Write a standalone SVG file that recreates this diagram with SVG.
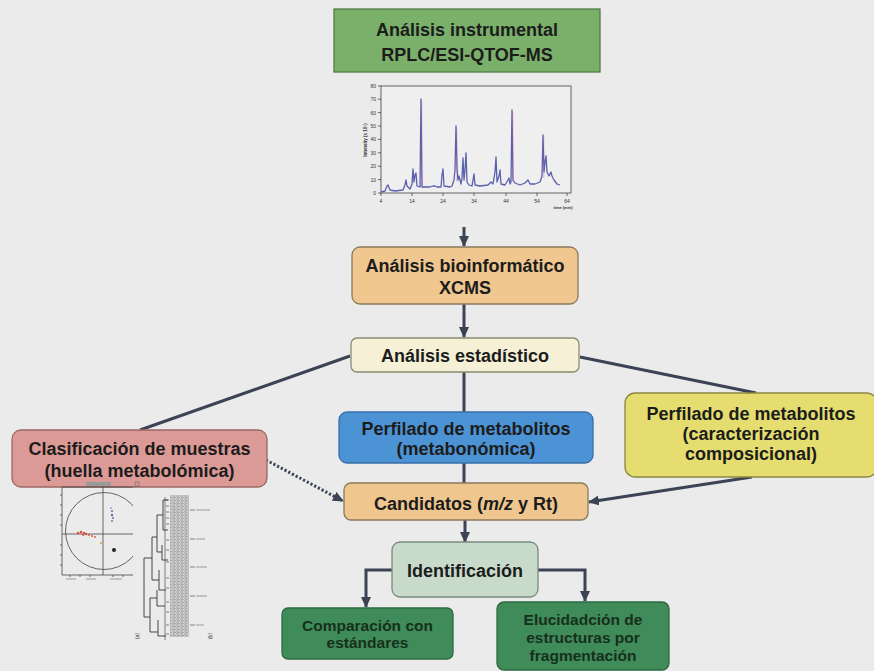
<svg xmlns="http://www.w3.org/2000/svg" width="874" height="671" viewBox="0 0 874 671">
<defs>
<style>
.t{font-family:"Liberation Sans",Arial,sans-serif;font-weight:bold;font-size:18px;fill:#1c1c1c;text-anchor:middle}
.s{font-size:15.5px;fill:#17301c}
.box{stroke-width:1.3}
.c{fill:none;stroke:#3b4354;stroke-width:3}
.tiny{font-family:"Liberation Sans",Arial,sans-serif;font-size:5px;fill:#333;text-anchor:middle}
.ax{fill:none;stroke:#444;stroke-width:0.8}
</style>
<marker id="ah" markerUnits="userSpaceOnUse" markerWidth="11" markerHeight="10" refX="10" refY="5" orient="auto"><path d="M0,0 L11,5 L0,10 z" fill="#3b4354"/></marker>
<clipPath id="pcaclip"><rect x="55" y="478" width="78" height="110"/></clipPath>
<pattern id="hm" width="4" height="3" patternUnits="userSpaceOnUse"><rect width="4" height="3" fill="#cfcfcf"/><path d="M0,1 H3 M1,2.5 H4" stroke="#8e8e8e" stroke-width="0.6"/></pattern>
</defs>
<rect width="874" height="671" fill="#ebebeb"/>

<g id="connectors">
<path class="c" d="M464,227 V246" marker-end="url(#ah)"/>
<path class="c" d="M464,304 V337" marker-end="url(#ah)"/>
<path class="c" d="M464,372 V412"/>
<path class="c" d="M464,463 V483"/>
<path class="c" d="M350,356 L140,430" stroke-width="2.6"/>
<path class="c" d="M580,357 L756,393" stroke-width="2.6"/>
<path class="c" d="M752,477 L589,502" stroke-width="2.6" marker-end="url(#ah)"/>
<path class="c" d="M266,460 L343,501" stroke-dasharray="2.2,2" stroke-width="3.5" marker-end="url(#ah)"/>
<path class="c" d="M465,520 V542" marker-end="url(#ah)"/>
<path class="c" d="M392,570 H366 V607" marker-end="url(#ah)"/>
<path class="c" d="M538,570 H585 V601" marker-end="url(#ah)"/>
</g>

<g id="n-instrumental">
<rect class="box" x="334" y="9" width="266" height="63" fill="#7bb06b" stroke="#4f7d45"/>
<text class="t" x="467" y="36">Análisis instrumental</text>
<text class="t" x="467" y="61">RPLC/ESI-QTOF-MS</text>
</g>

<g id="chromatogram">
<rect x="381" y="86" width="190" height="107" fill="#efefef" stroke="#555" stroke-width="0.9"/>
<g class="ax">
<path d="M381,193 h-3 M381,179.6 h-3 M381,166.2 h-3 M381,152.8 h-3 M381,139.4 h-3 M381,126 h-3 M381,112.6 h-3 M381,99.2 h-3 M381,86 h-3"/>
<path d="M381,193 v3 M412,193 v3 M443,193 v3 M474,193 v3 M506,193 v3 M537,193 v3 M567,193 v3"/>
</g>
<g class="tiny" style="text-anchor:end">
<text x="376" y="195">0</text><text x="376" y="181.5">10</text><text x="376" y="168">20</text><text x="376" y="154.5">30</text><text x="376" y="141">40</text><text x="376" y="128">50</text><text x="376" y="114.5">60</text><text x="376" y="101">70</text><text x="376" y="88">80</text>
</g>
<g class="tiny">
<text x="381" y="203">4</text><text x="412" y="203">14</text><text x="443" y="203">24</text><text x="474" y="203">34</text><text x="506" y="203">44</text><text x="537" y="203">54</text><text x="567" y="203">64</text>
<text x="563" y="209" style="font-weight:bold;font-size:4px">time (min)</text>
<text x="0" y="0" transform="translate(367,140) rotate(-90)" style="font-weight:bold;font-size:4.5px">Intensity (x 10⁵)</text>
</g>
<path fill="none" stroke="#5a5fae" stroke-width="1.3" stroke-linejoin="round" d="M381,192 L385,191 L387,186 L388,185 L390,190 L395,191 L403,190 L405,185 L406,180 L407,186 L410,189 L412,184 L413,169 L414,182 L415,175 L416,173 L417,186 L420,187 L421,99 L422,187 L430,187 L433,186 L435,186 L437,187 L441,187 L442,175 L443,169 L444,186 L450,187 L452,186 L454,180 L455,170 L456,126 L457,168 L458,180 L459,176 L461,184 L462,178 L463,158 L464,180 L465,170 L466,153 L467,182 L469,185 L472,186 L473,180 L474,174 L475,185 L480,186 L488,185 L490,183 L491,182 L493,184 L495,172 L496,157 L497,182 L499,176 L500,170 L501,184 L505,185 L508,180 L509,178 L510,184 L511,182 L512,110 L513,180 L515,183 L520,185 L525,183 L528,180 L530,184 L535,184 L540,182 L542,176 L543,135 L544,172 L545,162 L546,156 L547,172 L549,176 L551,172 L552,176 L554,180 L557,184 L560,185"/>
<path fill="none" stroke="#d2507a" stroke-width="0.5" opacity="0.7" d="M421.8,101 V186 M456.8,128 V182 M512.8,112 V182 M543.8,137 V178"/>
</g>

<g id="n-bioinformatico">
<rect class="box" x="352" y="247" width="226" height="57" rx="8" fill="#efc78f" stroke="#8a7a5c"/>
<text class="t" x="465" y="272">Análisis bioinformático</text>
<text class="t" x="465" y="294">XCMS</text>
</g>

<g id="n-estadistico">
<rect class="box" x="351" y="338" width="228" height="34" rx="6" fill="#f5f0d6" stroke="#8a8a72"/>
<text class="t" x="465" y="362">Análisis estadístico</text>
</g>

<g id="n-clasificacion">
<rect class="box" x="12" y="430" width="255" height="57" rx="9" fill="#dc9a97" stroke="#9a6866"/>
<text class="t" x="139.5" y="455">Clasificación de muestras</text>
<text class="t" x="139.5" y="477">(huella metabolómica)</text>
</g>

<g id="pca-figure">
<g clip-path="url(#pcaclip)">
<path class="ax" d="M62,487 V575 M62,487 H140 M62,575 H140 M103,487 V575 M62,534 H140"/>
<circle cx="104" cy="531" r="38.5" fill="none" stroke="#555" stroke-width="0.9"/>
<path class="ax" d="M62,495 h-2 M62,505 h-2 M62,515 h-2 M62,525 h-2 M62,545 h-2 M62,555 h-2 M62,565 h-2 M70,575 v2 M80,575 v2 M90,575 v2 M113,575 v2 M123,575 v2"/>
<g fill="#d9543a"><circle cx="78" cy="533" r="1.3"/><circle cx="81" cy="532" r="1.3"/><circle cx="84" cy="533" r="1.2"/><circle cx="86" cy="534" r="1.2"/><circle cx="89" cy="535" r="1"/><circle cx="92" cy="536" r="1"/><circle cx="95" cy="537" r="0.9"/><circle cx="83" cy="535" r="1"/></g>
<g fill="#5b6bb8"><circle cx="112" cy="511" r="1"/><circle cx="112" cy="515" r="1.2"/><circle cx="113" cy="518" r="1"/><circle cx="112" cy="521" r="0.9"/><circle cx="111" cy="508" r="0.8"/></g>
<circle cx="101" cy="543" r="1" fill="#e09a30"/>
<circle cx="114" cy="550" r="2" fill="#222"/>
<rect x="86" y="482" width="25" height="4" fill="#9a9a9a"/>
</g>
<rect x="135" y="482" width="4" height="4" fill="none" stroke="#666" stroke-width="0.6"/>
<path stroke="#999" stroke-width="1" d="M66,579 h10 M86,579 h10 M110,579 h12"/>
<g fill="none" stroke="#333" stroke-width="0.9">
<path d="M144,558 V617 M144,558 H152 M144,617 H150 M152,537 V580 M152,537 H157 M152,580 H159 M157,515 V552 M157,515 H163 M157,552 H162 M163,500 V530 M163,500 H168 M163,530 H168 M162,545 V560 H168 M159,570 V590 H166 M150,598 V632 M150,598 H157 M150,632 H158 M157,590 V606 H165 M158,620 V636 H166"/>
<path stroke-width="0.6" d="M165,497 V640 M166,500 h3 M166,506 h3 M166,512 h3 M166,518 h3 M166,524 h3 M166,540 h3 M166,550 h3 M166,562 h3 M166,578 h3 M166,588 h3 M166,602 h3 M166,612 h3 M166,625 h3 M166,634 h3"/>
</g>
<rect x="170" y="495" width="19" height="142" fill="url(#hm)"/>
<path stroke="#555" stroke-width="0.7" d="M190,510 h5 M190,539 h5 M190,567 h5 M190,596 h5 M190,625 h5"/>
<path stroke="#9a9a9a" stroke-width="1.2" d="M196,510 h14 M196,539 h9 M196,567 h11 M196,596 h11 M196,625 h8"/>
<text class="tiny" transform="translate(139,636) rotate(-90)">(a)</text>
<text class="tiny" transform="translate(212,636) rotate(-90)">(b)</text>
</g>

<g id="n-metabonomica">
<rect class="box" x="339" y="412" width="254" height="51" rx="8" fill="#4c93d6" stroke="#386da6"/>
<text class="t" x="466" y="435">Perfilado de metabolitos</text>
<text class="t" x="466" y="455">(metabonómica)</text>
</g>

<g id="n-composicional">
<rect class="box" x="625" y="393" width="252" height="84" rx="10" fill="#e5dd6f" stroke="#8a8640"/>
<text class="t" x="751" y="420">Perfilado de metabolitos</text>
<text class="t" x="751" y="440">(caracterización</text>
<text class="t" x="751" y="460">composicional)</text>
</g>

<g id="n-candidatos">
<rect class="box" x="344" y="483" width="244" height="37" rx="7" fill="#efc78e" stroke="#8a7a5c"/>
<text class="t" x="466" y="510">Candidatos (<tspan font-style="italic">m/z</tspan> y Rt)</text>
</g>

<g id="n-identificacion">
<rect class="box" x="392" y="542" width="146" height="55" rx="8" fill="#c8dbcb" stroke="#7a8a7c"/>
<text class="t" x="465" y="577">Identificación</text>
</g>

<g id="n-comparacion">
<rect class="box" x="282" y="608" width="171" height="51" rx="6" fill="#3f8b59" stroke="#2d6a43"/>
<text class="t s" x="367.5" y="631">Comparación con</text>
<text class="t s" x="367.5" y="648">estándares</text>
</g>

<g id="n-elucidacion">
<rect class="box" x="497" y="602" width="172" height="68" rx="7" fill="#3f8b59" stroke="#2d6a43"/>
<text class="t s" x="583" y="625">Elucidadción de</text>
<text class="t s" x="583" y="643">estructuras por</text>
<text class="t s" x="583" y="661">fragmentación</text>
</g>
</svg>
